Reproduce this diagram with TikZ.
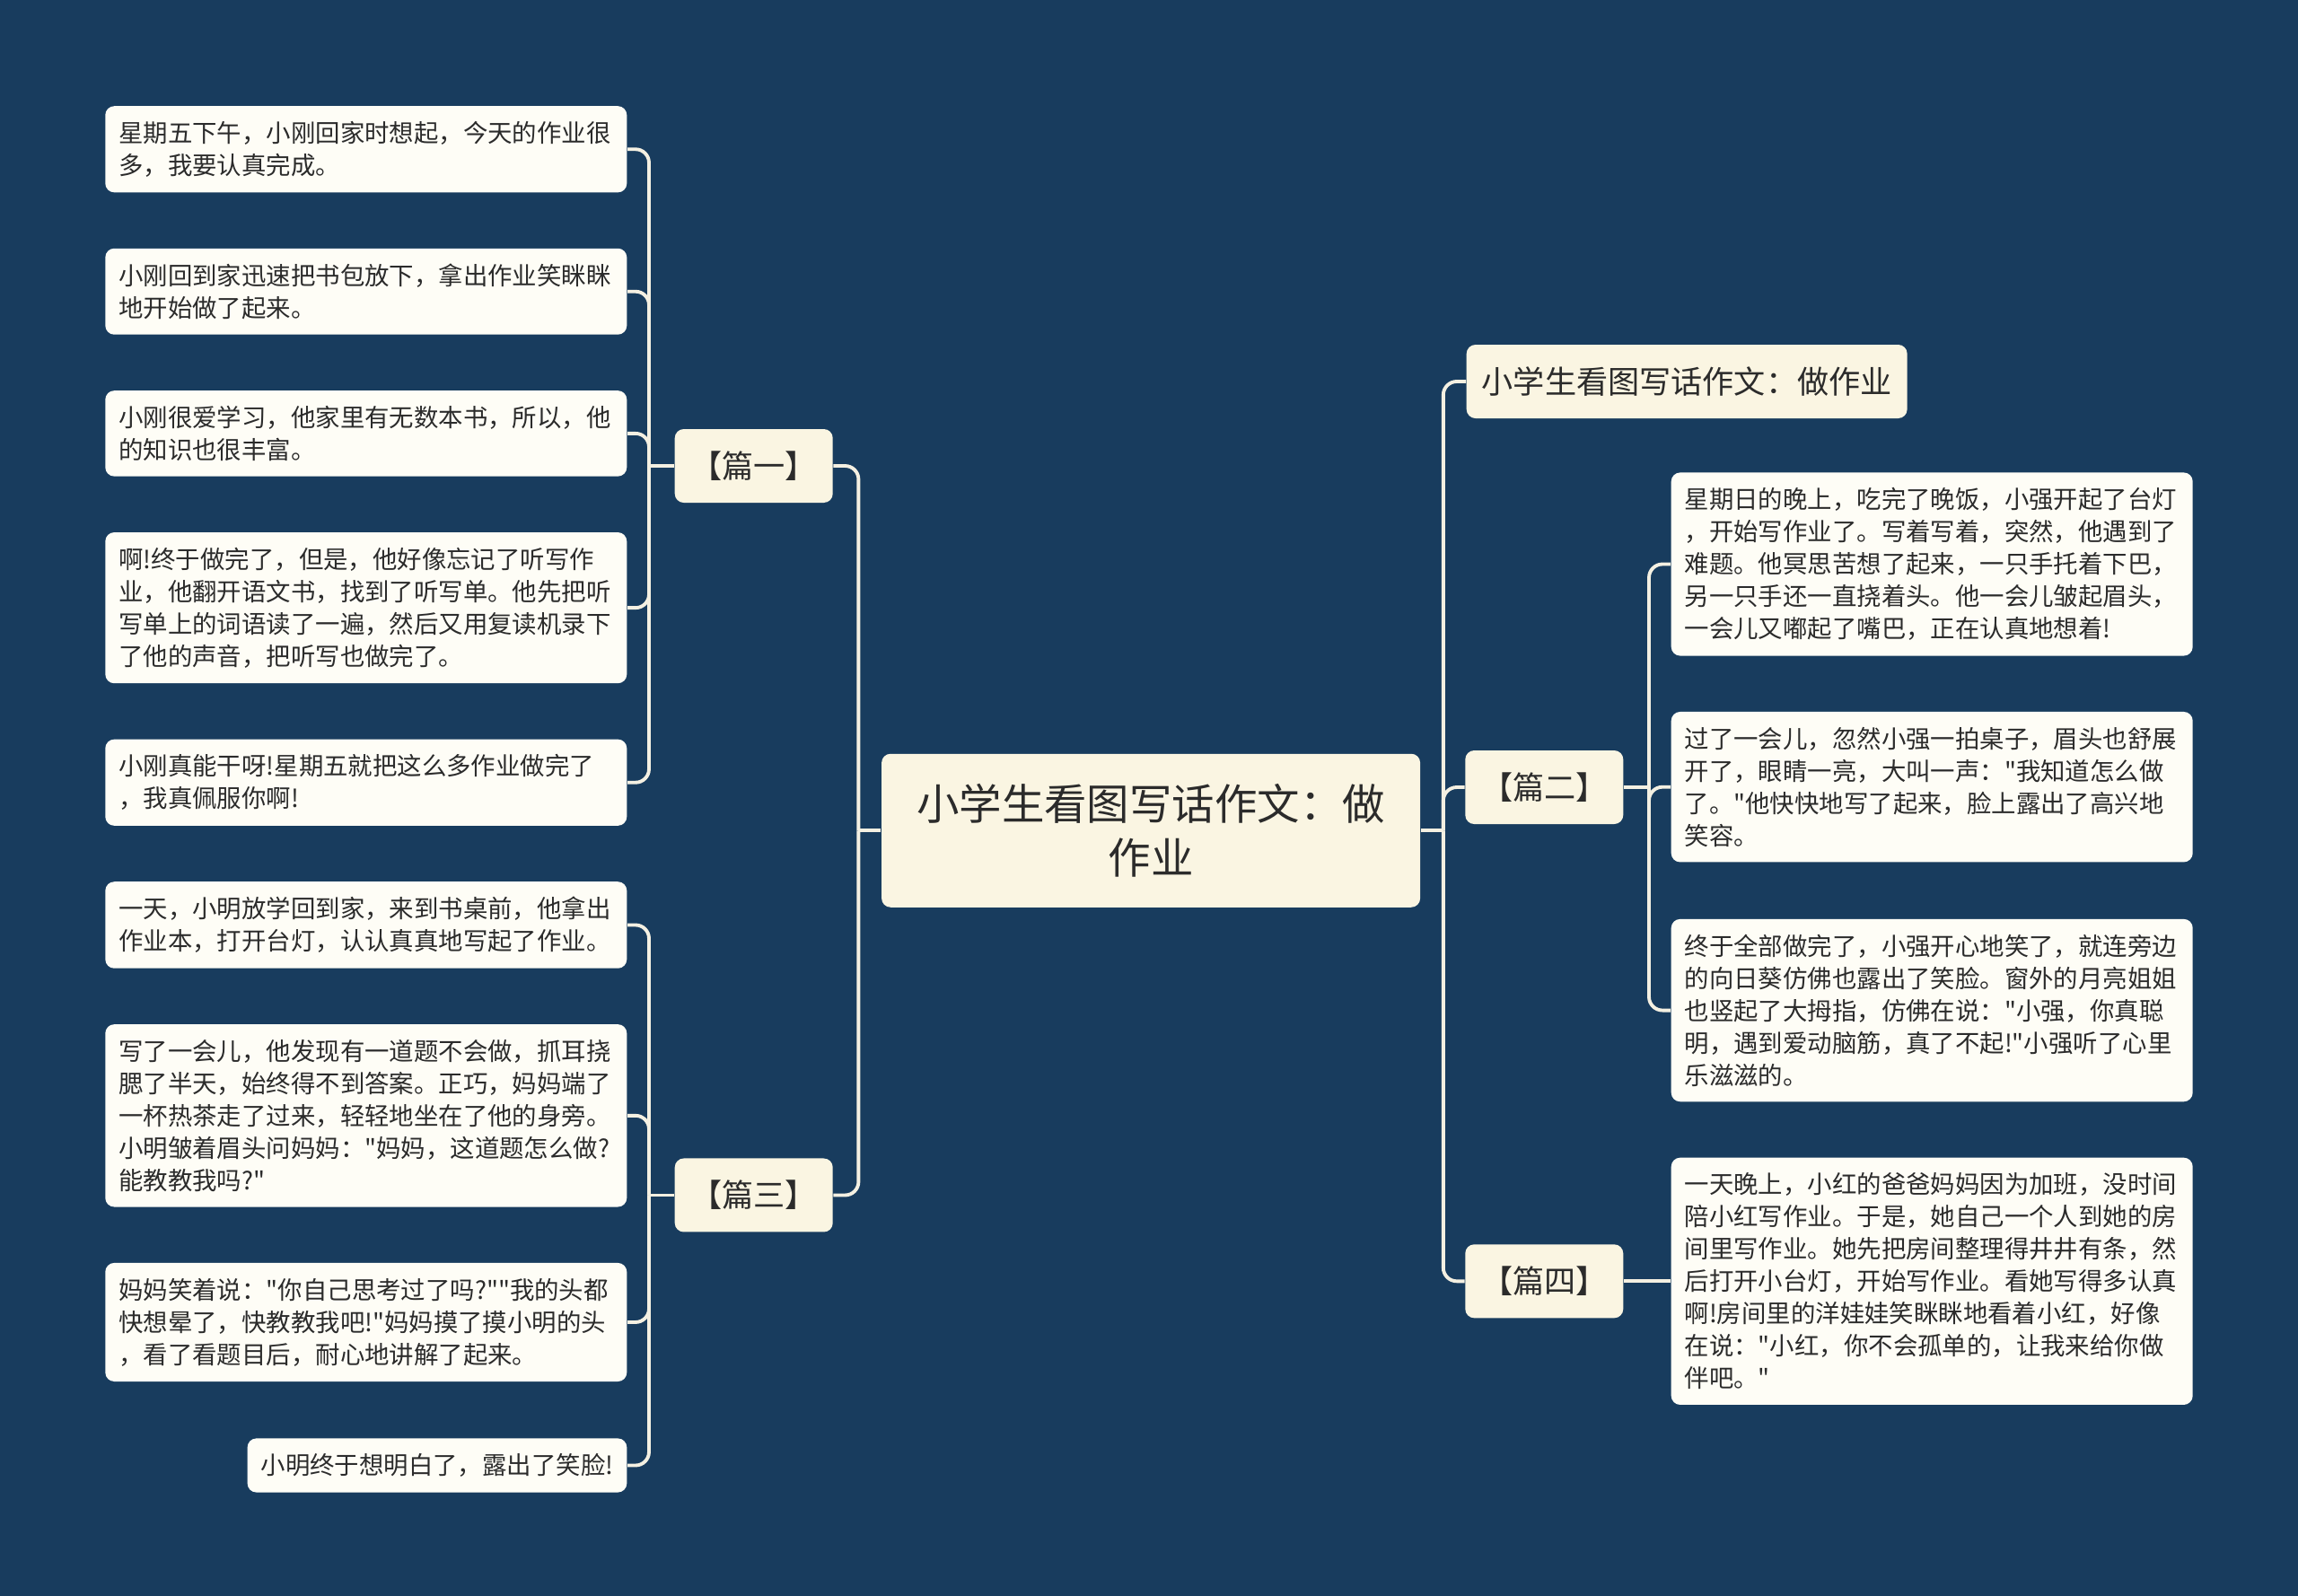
\documentclass[tikz,border=0pt]{standalone}
\usepackage{fontspec}
\setmainfont{Noto Sans CJK SC}[Ligatures=TeXOff]
\usepackage{xcolor}
\usepackage{tikz}
\usetikzlibrary{positioning, calc}

\definecolor{bgblue}{HTML}{183C5E}
\definecolor{cream}{HTML}{FAF5E2}
\definecolor{paper}{HTML}{FEFDF6}
\definecolor{wire}{HTML}{F4F0E2}
\definecolor{ink}{HTML}{2B2B2B}

\begin{document}
\begin{tikzpicture}[
			node distance=0.61cm,
			root/.style={fill=cream,rounded corners=0.1cm,text=ink,align=center,minimum width=6cm,minimum height=1.71cm,inner sep=0pt,font=\fontsize{13.5}{17}\selectfont},
			branch/.style={fill=cream,rounded corners=0.1cm,text=ink,minimum width=1.76cm,minimum height=0.82cm,inner xsep=0.17cm,inner ysep=0pt,font=\fontsize{10}{12}\selectfont},
			leaf/.style={fill=paper,rounded corners=0.1cm,text=ink,align=left,inner xsep=0.15cm,inner ysep=0.17cm,font=\fontsize{7.8}{10.24}\selectfont},
			wide/.style={leaf,text width=5.51cm},
			link/.style={draw=wire,line width=1.1pt,rounded corners=0.15cm}
			]
			\fill[bgblue] (0,0) rectangle (25.6,-17.78);
			\useasboundingbox (0,0) rectangle (25.6,-17.78);
			
			% left side
			\node[wide,anchor=north east] (l1) at (6.99,-1.175) {星期五下午，小刚回家时想起，今天的作业很\\多，我要认真完成。};
			\node[wide,below=of l1] (l2) {小刚回到家迅速把书包放下，拿出作业笑眯眯\\地开始做了起来。};
			\node[wide,below=of l2] (l3) {小刚很爱学习，他家里有无数本书，所以，他\\的知识也很丰富。};
			\node[wide,below=of l3] (l4) {啊!终于做完了，但是，他好像忘记了听写作\\业，他翻开语文书，找到了听写单。他先把听\\写单上的词语读了一遍，然后又用复读机录下\\了他的声音，把听写也做完了。};
			\node[wide,below=of l4] (l5) {小刚真能干呀!星期五就把这么多作业做完了\\，我真佩服你啊!};
			\node[wide,below=of l5] (l6) {一天，小明放学回到家，来到书桌前，他拿出\\作业本，打开台灯，认认真真地写起了作业。};
			\node[wide,below=of l6] (l7) {写了一会儿，他发现有一道题不会做，抓耳挠\\腮了半天，始终得不到答案。正巧，妈妈端了\\一杯热茶走了过来，轻轻地坐在了他的身旁。\\小明皱着眉头问妈妈："妈妈，这道题怎么做?\\能教教我吗?"};
			\node[wide,below=of l7] (l8) {妈妈笑着说："你自己思考过了吗?""我的头都\\快想晕了，快教教我吧!"妈妈摸了摸小明的头\\，看了看题目后，耐心地讲解了起来。};
			\node[leaf,below=0.62cm of l8.south east,anchor=north east] (l9) {小明终于想明白了，露出了笑脸!};
			
			\node[branch,anchor=west] (p1) at ($(l1.east)!.5!(l5.east)+(0.52,0)$) {【篇一】};
			\node[branch,anchor=west] (p3) at ($(l6.east)!.5!(l9.east)+(0.52,0)$) {【篇三】};
			
			\node[root,anchor=west] (c) at ($(p1.east)!.5!(p3.east)+(0.53,0)$) {小学生看图写话作文：做\\作业};
			
			% right side
			\node[wide,anchor=north west] (r1) at (18.61,-5.257) {星期日的晚上，吃完了晚饭，小强开起了台灯\\，开始写作业了。写着写着，突然，他遇到了\\难题。他冥思苦想了起来，一只手托着下巴，\\另一只手还一直挠着头。他一会儿皱起眉头，\\一会儿又嘟起了嘴巴，正在认真地想着!};
			\node[wide,below=of r1] (r2) {过了一会儿，忽然小强一拍桌子，眉头也舒展\\开了，眼睛一亮，大叫一声："我知道怎么做\\了。"他快快地写了起来，脸上露出了高兴地\\笑容。};
			\node[wide,below=0.62cm of r2] (r3) {终于全部做完了，小强开心地笑了，就连旁边\\的向日葵仿佛也露出了笑脸。窗外的月亮姐姐\\也竖起了大拇指，仿佛在说："小强，你真聪\\明，遇到爱动脑筋，真了不起!"小强听了心里\\乐滋滋的。};
			\node[wide,below=of r3] (r4) {一天晚上，小红的爸爸妈妈因为加班，没时间\\陪小红写作业。于是，她自己一个人到她的房\\间里写作业。她先把房间整理得井井有条，然\\后打开小台灯，开始写作业。看她写得多认真\\啊!房间里的洋娃娃笑眯眯地看着小红，好像\\在说："小红，你不会孤单的，让我来给你做\\伴吧。"};
			
			\node[branch,anchor=west] (t) at (16.33,-4.25) {小学生看图写话作文：做作业};
			\node[branch,anchor=east] (p2) at ($(r1.west)!.5!(r3.west)+(-0.52,0)$) {【篇二】};
			\node[branch,anchor=east] (p4) at ($(r4.west)+(-0.52,0)$) {【篇四】};
			
			% connectors
			\draw[link] (c.west) -- ++(-0.25,0) coordinate (cl);
			\draw[link] (c.east) -- ++(0.25,0) coordinate (cr);
			\foreach \n in {p1,p3} \draw[link] (cl) |- (\n.east);
			\foreach \n in {t,p2,p4} \draw[link] (cr) |- (\n.west);
			
			\draw[link] (p1.west) -- ++(-0.28,0) coordinate (p1j);
			\draw[link] (p3.west) -- ++(-0.28,0) coordinate (p3j);
			\foreach \n in {l1,l2,l3,l4,l5} \draw[link] (p1j) |- (\n.east);
			\foreach \n in {l6,l7,l8,l9} \draw[link] (p3j) |- (\n.east);
			
			\draw[link] (p2.east) -- ++(0.28,0) coordinate (p2j);
			\foreach \n in {r1,r2,r3} \draw[link] (p2j) |- (\n.west);
			\draw[link] (p4.east) -- (r4.west);
		\end{tikzpicture}
\end{document}
